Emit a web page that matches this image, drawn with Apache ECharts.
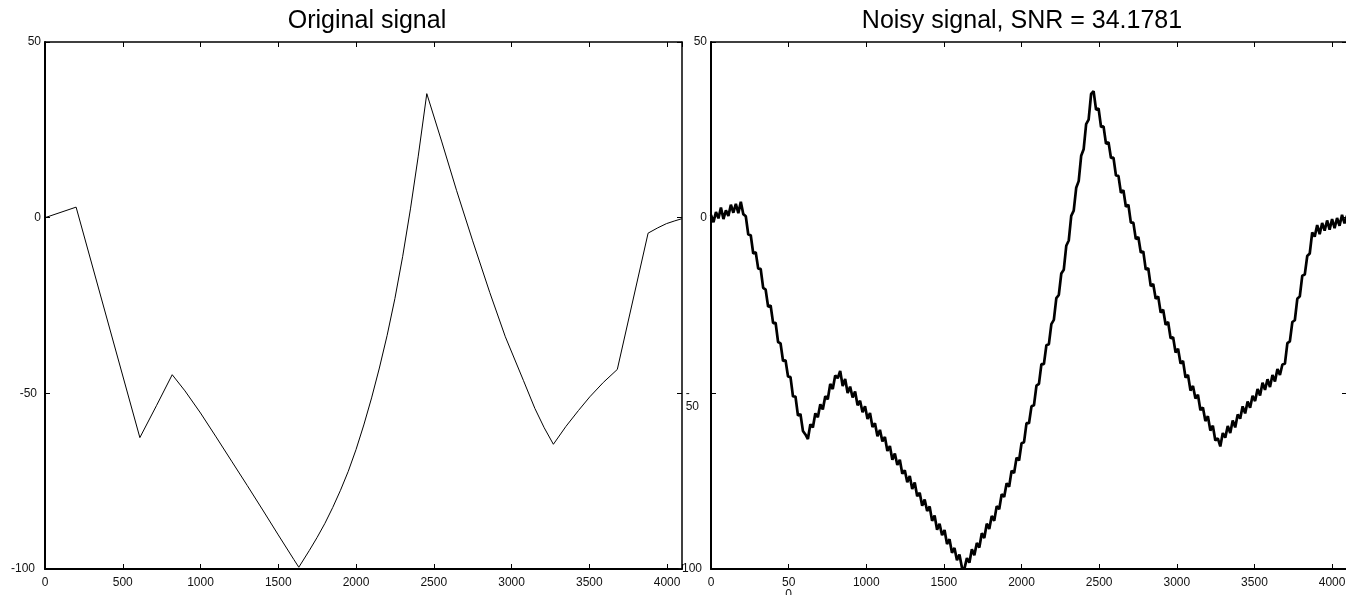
<!DOCTYPE html>
<html lang="en">
<head>
    <meta charset="UTF-8">
    <title>signal</title>
    <script src="https://cdn.jsdelivr.net/npm/echarts@6/dist/echarts.min.js"></script>
    <style>
        html, body { margin: 0; padding: 0; background: #fff; }
        #chart { width: 1346px; height: 595px; }
    </style>
</head>
<body>
<div id="chart"></div>
<script>
    // original (clean) signal
    var origX = [0, 200, 610, 718, 818, 900, 1000, 1100, 1200, 1300, 1400, 1500, 1600, 1632,
        1700, 1750, 1800, 1850, 1900, 1950, 2000, 2050, 2100, 2150, 2200, 2250, 2300, 2350, 2400, 2455,
        2550, 2646, 2750, 2860, 2960, 3076, 3150, 3210, 3269,
        3350, 3430, 3503, 3590, 3680, 3878, 3940, 3996, 4050, 4095];
    var origY = [0, 3.0, -62.6, -53.4, -44.7, -49.3, -55.6, -62.4, -69.3, -76.2, -83.2, -90.3, -97.3, -99.5,
        -94.7, -91.0, -87.0, -82.5, -77.6, -72.2, -66.0, -59.0, -51.3, -42.8, -33.5, -23.0, -11.0, 2.5, 17.5, 35.3,
        21.8, 7.8, -6.6, -21.3, -33.9, -46.3, -54.3, -59.8, -64.5,
        -59.4, -54.9, -51.0, -46.9, -43.2, -4.4, -2.9, -1.7, -0.9, -0.3];

    // noisy signal, one value every 16 samples
    var noisyStep = 16;
    var noisyY = [
        0.8, -1.3, 1.6, -0.2, 2.9, -0.4, 2.1, 0.5, 3.7, 1.4,
        3.9, 1.3, 4.5, 1.0, 0.4, -4.8, -5.0, -10.2, -9.8, -14.5,
        -14.6, -20.0, -20.5, -25.4, -25.0, -30.0, -29.9, -35.4, -35.8, -40.8,
        -40.6, -45.2, -45.4, -50.9, -50.9, -56.3, -55.9, -60.7, -61.7, -63.0,
        -58.8, -59.7, -55.7, -56.8, -53.1, -54.6, -50.8, -51.7, -47.3, -48.8,
        -44.9, -45.7, -43.6, -47.9, -45.9, -49.9, -48.1, -51.2, -49.5, -53.4,
        -52.1, -55.4, -53.7, -57.3, -55.6, -59.6, -58.5, -62.2, -60.4, -63.7,
        -62.4, -66.4, -65.0, -68.9, -67.1, -70.4, -68.9, -72.9, -71.9, -75.3,
        -73.5, -77.2, -75.4, -79.3, -78.3, -82.0, -80.2, -83.5, -82.2, -86.3,
        -84.8, -88.8, -87.1, -90.4, -88.9, -92.9, -91.5, -95.4, -94.0, -97.5,
        -95.9, -99.6, -99.9, -96.9, -98.2, -94.4, -96.1, -92.6, -93.9, -89.8,
        -91.2, -87.1, -88.6, -84.9, -86.3, -82.1, -83.0, -78.7, -79.5, -75.6,
        -76.6, -72.0, -72.7, -68.3, -69.1, -64.2, -63.9, -58.5, -58.5, -53.7,
        -53.4, -47.8, -47.3, -41.7, -41.7, -36.3, -36.0, -30.3, -29.1, -22.9,
        -22.0, -15.9, -14.8, -8.0, -6.5, 0.5, 2.0, 8.5, 10.4, 17.6,
        19.5, 26.6, 27.9, 35.2, 36.0, 30.7, 31.1, 25.8, 26.0, 21.0,
        21.5, 17.0, 17.1, 12.0, 11.9, 7.1, 7.8, 3.1, 3.7, -1.4,
        -1.4, -6.1, -5.5, -9.9, -9.6, -14.8, -14.4, -19.5, -18.9, -23.1,
        -22.4, -27.0, -26.2, -30.5, -29.7, -34.3, -34.0, -38.4, -37.3, -41.5,
        -40.8, -45.5, -44.8, -49.2, -47.9, -51.5, -50.4, -54.8, -54.0, -57.9,
        -56.5, -60.6, -59.2, -63.4, -62.8, -65.1, -61.3, -62.6, -59.3, -61.3,
        -57.7, -59.7, -56.0, -57.2, -53.7, -55.7, -52.3, -54.1, -50.7, -52.2,
        -48.8, -50.6, -47.0, -49.0, -46.0, -48.2, -44.8, -46.6, -43.1, -44.8,
        -41.8, -41.6, -35.7, -35.2, -29.7, -29.2, -23.1, -22.4, -16.5, -16.2,
        -10.9, -10.2, -4.2, -5.4, -2.1, -4.7, -1.5, -3.7, -0.8, -3.4,
        -0.4, -3.0, -0.1, -2.3, 0.8, -1.6, 0.6
    ];

    var titles = ['Original signal', 'Noisy signal, SNR = 34.1781'];
    var xMin = 0, xMax = 4096, xStep = 500;
    var yMin = -100, yMax = 50, yStep = 50;

    var font = 'Liberation Sans, Arial, sans-serif';
    var labelColor = '#111';

    var origData = origX.map(function (x, i) { return [x, origY[i]]; });
    var noisyData = noisyY.map(function (y, i) { return [i * noisyStep, y]; });

    function xAxisFor(grid, pos, fmt) {
        return {
            type: 'value', gridIndex: grid, position: pos,
            min: xMin, max: xMax, interval: xStep,
            axisLine: { onZero: false, lineStyle: { color: '#000', width: pos === 'bottom' ? 2 : 1.5 } },
            axisTick: { inside: true, length: 5, lineStyle: { color: '#000', width: 1 } },
            splitLine: { show: false },
            axisLabel: {
                show: pos === 'bottom', margin: 8, fontSize: 12, lineHeight: 12,
                color: labelColor, fontFamily: font,
                formatter: fmt || function (v) { return v % xStep === 0 ? String(v) : ''; }
            }
        };
    }

    function yAxisFor(grid, pos, fmt, rich) {
        return {
            type: 'value', gridIndex: grid, position: pos,
            min: yMin, max: yMax, interval: yStep,
            axisLine: { onZero: false, lineStyle: { color: '#000', width: pos === 'left' ? 2 : 1.5 } },
            axisTick: { inside: true, length: 5, lineStyle: { color: '#000', width: 1 } },
            splitLine: { show: false },
            axisLabel: {
                show: pos === 'left', margin: 4, fontSize: 12,
                color: labelColor, fontFamily: font,
                formatter: fmt, rich: rich
            }
        };
    }

    var tok = function (pad, al) {
        return { fontSize: 12, color: labelColor, fontFamily: font, padding: [0, pad, 0, 0], align: al, lineHeight: 13 };
    };

    var chart = echarts.init(document.getElementById('chart'));
    chart.setOption({
        animation: false,
        backgroundColor: '#fff',
        title: [
            { text: titles[0], left: 367, top: 9, textAlign: 'center', padding: 0,
              textStyle: { fontSize: 25, fontWeight: 'normal', color: '#000', fontFamily: font } },
            { text: titles[1], left: 1022, top: 9, textAlign: 'center', padding: 0,
              textStyle: { fontSize: 25, fontWeight: 'normal', color: '#000', fontFamily: font } }
        ],
        grid: [
            { left: 45, top: 42, width: 637, height: 527, outerBoundsMode: 'none' },
            { left: 711, top: 42, width: 636, height: 527, outerBoundsMode: 'none' }
        ],
        xAxis: [
            xAxisFor(0, 'bottom'),
            xAxisFor(0, 'top'),
            xAxisFor(1, 'bottom', function (v) {
                if (v === 500) return '50\n0';   // label wraps in the original
                return v % xStep === 0 ? String(v) : '';
            }),
            xAxisFor(1, 'top')
        ],
        yAxis: [
            yAxisFor(0, 'left', function (v) {
                if (v === -50) return '{a|-50}';
                if (v === -100) return '{b|-100}';
                return String(v);
            }, { a: tok(4, 'right'), b: tok(6, 'right') }),
            yAxisFor(0, 'right'),
            yAxisFor(1, 'left', function (v) {
                if (v === -50) return '{d| }\n{d|-}\n{d|50}';
                if (v === -100) return '{b|-100}';
                return String(v);
            }, { d: tok(8, 'left'), b: tok(5, 'right') }),
            yAxisFor(1, 'right')
        ],
        series: [
            {
                type: 'line', xAxisIndex: 0, yAxisIndex: 0,
                data: origData, showSymbol: false,
                lineStyle: { color: '#000', width: 1 }
            },
            {
                type: 'line', xAxisIndex: 2, yAxisIndex: 2,
                data: noisyData, showSymbol: false,
                lineStyle: { color: '#000', width: 2.7 }
            }
        ]
    });
</script>
</body>
</html>
